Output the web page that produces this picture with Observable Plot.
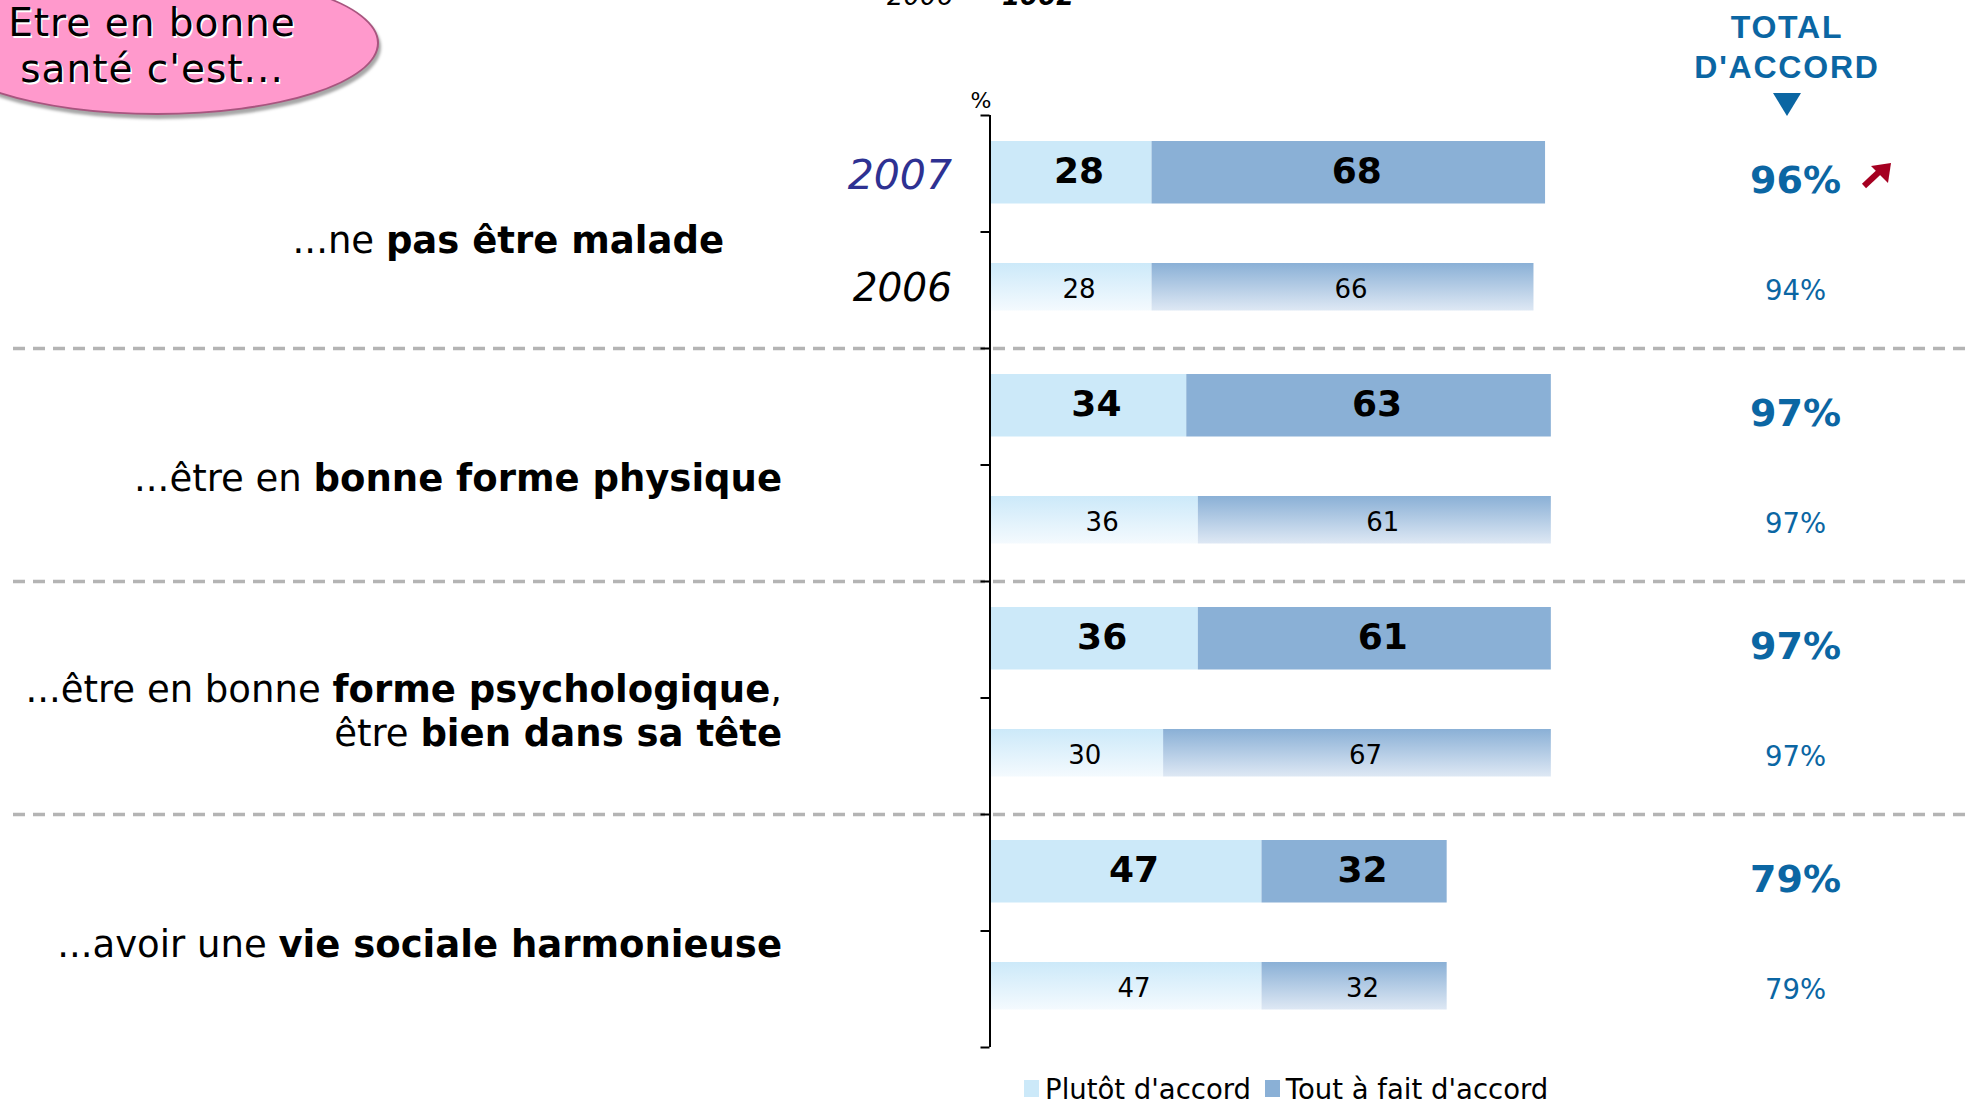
<!DOCTYPE html>
<html>
<head>
<meta charset="utf-8">
<script src="https://cdn.jsdelivr.net/npm/d3@7"></script>
<script src="https://cdn.jsdelivr.net/npm/@observablehq/plot@0.6"></script>
<style>
  html, body { margin: 0; padding: 0; background: #fff; }
  #page { position: relative; width: 1966px; height: 1106px; overflow: hidden; font-family: "DejaVu Sans", sans-serif; }
  #chart { position: absolute; left: 0; top: 0; }
  #bubble { position: absolute; left: -65px; top: -29px; width: 444px; height: 144px; border-radius: 50%;
            background: #ff99cc; border: 2px solid #a8557f; box-shadow: 2px 4px 3px rgba(0,0,0,0.35); box-sizing: border-box; }
  #bubbleText { position: absolute; left: 0; top: 0; width: 304px; text-align: center; font-size: 39px; line-height: 45.5px;
                letter-spacing: 1px; color: #000; text-shadow: 1.5px 1.5px 0 #fff; white-space: nowrap; }
  #header { position: absolute; left: 1687px; width: 200px; top: 7px; text-align: center; color: #0b66a3;
            font-family: "Liberation Sans", sans-serif; font-weight: bold; font-size: 32px; line-height: 40px; letter-spacing: 1.8px; }
  #triangle { position: absolute; left: 1773px; top: 93px; width: 0; height: 0; border-left: 14px solid transparent;
              border-right: 14px solid transparent; border-top: 23px solid #0b66a3; }
  #legend { position: absolute; left: 1024px; top: 1072px; }
  #legend span[class$="-swatch"] { margin-right: 0.5em !important; }
  #legend span[class$="-swatch"] > svg { margin-right: 0.22em !important; }
  #overlay { position: absolute; left: 0; top: 0; pointer-events: none; }
</style>
</head>
<body>
<div id="page">
  <div id="chart"></div>
  <div id="bubble"></div>
  <div id="bubbleText">Etre en bonne<br>santé c'est...</div>
  <div id="header">TOTAL<br>D'ACCORD</div>
  <div id="triangle"></div>
  <svg id="overlay" width="1966" height="200">
    <text x="887" y="5" font-family="DejaVu Sans" font-size="26" font-style="italic">2006</text>
    <text x="1002" y="5" font-family="DejaVu Sans" font-size="26" font-style="italic" font-weight="bold">1002</text>
    <g fill="#a50021" stroke="#a50021">
      <line x1="1864" y1="186" x2="1880" y2="171" stroke-width="6"/>
      <polygon points="1891,163 1871,166 1888,183" stroke="none"/>
    </g>
  </svg>
  <div id="legend"></div>
</div>
<script>
// ---- data ----
const categories = [
  "...ne **pas être malade**",
  "...être en **bonne forme physique**",
  "...être en bonne **forme psychologique**,\nêtre **bien dans sa tête**",
  "...avoir une **vie sociale harmonieuse**"
];
const years = ["2007", "2006"];
const seriesNames = ["Plutôt d'accord", "Tout à fait d'accord"];
const seriesColors = ["#cce9f9", "#8ab0d6"];
const plutot2007 = [28, 34, 36, 47];
const toutAFait2007 = [68, 63, 61, 32];
const plutot2006 = [28, 36, 30, 47];
const toutAFait2006 = [66, 61, 67, 32];
const total2007 = [96, 97, 97, 79];
const total2006 = [94, 97, 97, 79];

// ---- derived tables ----
const byYear = [[plutot2007, toutAFait2007, total2007], [plutot2006, toutAFait2006, total2006]];
const rows = [];
categories.forEach((c, g) => {
  byYear.forEach(([p, t, tot], k) => {
    rows.push({group: g, year: years[k], row: 2 * g + k, plutot: p[g], tout: t[g], total: tot[g]});
  });
});
const segments = rows.flatMap(r => [
  {...r, series: seriesNames[0], value: r.plutot, x1: 0, x2: r.plutot},
  {...r, series: seriesNames[1], value: r.tout, x1: r.plutot, x2: r.plutot + r.tout}
]);
const cats = categories.map((markup, g) => ({group: g, markup, plain: markup.replace(/\*\*/g, "")}));
const seg = (y, s) => segments.filter(d => d.year === y && d.series === s);
const y0 = years[0], y1 = years[1];

const W = 1966, H = 1066;
const xLeft = 989.5, pxPerUnit = 5.787;
const labelFont = 37;

const chart = Plot.plot({
  width: W,
  height: H,
  marginLeft: 13,
  marginRight: 0,
  marginTop: 115,
  marginBottom: 19,
  style: {fontFamily: "DejaVu Sans", background: "transparent", overflow: "visible", color: "#000"},
  x: {domain: [0, 100], range: [xLeft, xLeft + 100 * pxPerUnit], axis: null},
  y: {domain: [0, rows.length], range: [115, 1047], axis: null},
  marks: [
    // group separators
    Plot.ruleY(d3.range(1, categories.length).map(g => 2 * g), {stroke: "#b4b4b4", strokeWidth: 3.5, strokeDasharray: "12,8"}),
    // 2007 bars
    Plot.rect(seg(y0, seriesNames[0]), {x1: "x1", x2: "x2", y1: "row", y2: d => d.row + 1, fill: seriesColors[0], insetTop: 26, insetBottom: 28}),
    Plot.rect(seg(y0, seriesNames[1]), {x1: "x1", x2: "x2", y1: "row", y2: d => d.row + 1, fill: seriesColors[1], insetTop: 26, insetBottom: 28}),
    // 2006 bars (gradient)
    Plot.rect(seg(y1, seriesNames[0]), {x1: "x1", x2: "x2", y1: "row", y2: d => d.row + 1, fill: "url(#gradPlutot)", insetTop: 31.5, insetBottom: 37.5}),
    Plot.rect(seg(y1, seriesNames[1]), {x1: "x1", x2: "x2", y1: "row", y2: d => d.row + 1, fill: "url(#gradTout)", insetTop: 31.5, insetBottom: 37.5}),
    // axis line and ticks
    Plot.ruleX([0], {y1: 0, y2: rows.length, stroke: "#000", strokeWidth: 2}),
    Plot.ruleY(d3.range(rows.length + 1), {x1: 0, x2: 0, insetRight: 9, stroke: "#000", strokeWidth: 2}),
    Plot.text(["%"], {x: 0, y: 0, text: d => d, dx: -9, dy: -15, fontSize: 22, fill: "#000"}),
    // value labels
    Plot.text(segments.filter(d => d.year === y0), {x: d => (d.x1 + d.x2) / 2, y: d => d.row + 0.5, text: "value", dx: 8, dy: -2, fontSize: 36, fontWeight: "bold", fill: "#000"}),
    Plot.text(segments.filter(d => d.year === y1), {x: d => (d.x1 + d.x2) / 2, y: d => d.row + 0.5, text: "value", dx: 8, dy: -1, fontSize: 26, fill: "#000"}),
    // totals
    Plot.text(rows.filter(d => d.year === y0), {frameAnchor: "right", y: d => d.row + 0.5, text: d => d.total + "%", textAnchor: "middle", dx: -171, dy: 7, fontSize: 38, fontWeight: "bold", fill: "#0b66a3"}),
    Plot.text(rows.filter(d => d.year === y1), {frameAnchor: "right", y: d => d.row + 0.5, text: d => d.total + "%", textAnchor: "middle", dx: -171, dy: 1, fontSize: 27.5, fill: "#0b66a3"}),
    // years for first group
    Plot.text(rows.filter(d => d.group === 0 && d.year === y0), {x: 0, y: d => d.row + 0.5, text: "year", textAnchor: "end", dx: -38, dy: 2, fontSize: 41, fontStyle: "italic", fill: "#2e3192"}),
    Plot.text(rows.filter(d => d.group === 0 && d.year === y1), {x: 0, y: d => d.row + 0.5, text: "year", textAnchor: "end", dx: -38, dy: -2, fontSize: 39, fontStyle: "italic", fill: "#000"}),
    // category labels
    Plot.text(cats.filter(d => d.group === 0), {x: 0, y: d => 2 * d.group + 1, text: "plain", textAnchor: "end", dx: -266, dy: 8, fontSize: labelFont, fill: "#000"}),
    Plot.text(cats.filter(d => d.group > 0), {x: 0, y: d => 2 * d.group + 1, text: "plain", textAnchor: "end", dx: -208, dy: 13, fontSize: labelFont, fill: "#000"})
  ]
});

// gradient definitions for the 2006 bars
const defs = `<defs>
  <linearGradient id="gradPlutot" x1="0" y1="0" x2="0" y2="1">
    <stop offset="0" stop-color="${seriesColors[0]}"/><stop offset="1" stop-color="#f4fafe"/>
  </linearGradient>
  <linearGradient id="gradTout" x1="0" y1="0" x2="0" y2="1">
    <stop offset="0" stop-color="${seriesColors[1]}"/><stop offset="1" stop-color="#dee8f4"/>
  </linearGradient>
</defs>`;
chart.insertAdjacentHTML("afterbegin", defs);

// rich text (bold parts) for category labels
const NS = "http://www.w3.org/2000/svg";
const lineHeight = 44;
const norm = s => s.replace(/\s+/g, "");
chart.querySelectorAll("text").forEach(tEl => {
  const cat = cats.find(c => norm(c.plain) === norm(tEl.textContent));
  if (!cat) return;
  while (tEl.firstChild) tEl.removeChild(tEl.firstChild);
  tEl.removeAttribute("y");
  const lines = cat.markup.split("\n");
  lines.forEach((line, li) => {
    let first = true;
    line.split("**").forEach((part, pi) => {
      if (!part) return;
      const ts = document.createElementNS(NS, "tspan");
      if (first) {
        ts.setAttribute("x", 0);
        ts.setAttribute("y", (li - (lines.length - 1) / 2) * lineHeight + 0.35 * labelFont);
        first = false;
      }
      if (pi % 2 === 1) ts.setAttribute("font-weight", "bold");
      ts.textContent = part;
      tEl.appendChild(ts);
    });
  });
});

document.getElementById("chart").appendChild(chart);

const legend = Plot.legend({
  color: {type: "ordinal", domain: seriesNames, range: seriesColors},
  swatchWidth: 15,
  swatchHeight: 17,
  style: {fontSize: "27.5px", fontFamily: "DejaVu Sans", color: "#000", background: "transparent"}
});
document.getElementById("legend").appendChild(legend);
</script>
</body>
</html>
